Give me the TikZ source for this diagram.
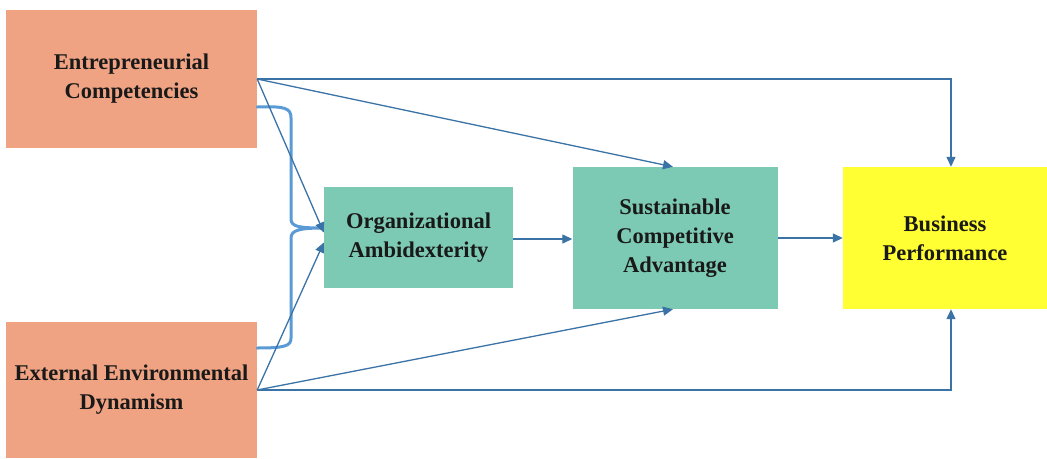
\documentclass[tikz,border=0pt]{standalone}
\usepackage{fontspec}
\setmainfont{Liberation Serif}
\usetikzlibrary{arrows.meta}
\definecolor{salmon}{HTML}{F0A383}
\definecolor{teal}{HTML}{7DCAB4}
\definecolor{bpyellow}{HTML}{FFFF33}
\definecolor{arrowblue}{HTML}{3B73A6}
\definecolor{braceblue}{HTML}{5B9BD5}
\tikzset{
  box/.style={draw=none, align=center, inner sep=0pt,
    font=\fontsize{22.5}{29}\selectfont\bfseries, text=black!90},
  arr/.style={draw=arrowblue, line width=1.3pt,
    -{Triangle[length=10pt,width=9pt]}},
  bracket/.style={draw=braceblue, line width=3pt, line cap=round}
}
\begin{document}
\begin{tikzpicture}[x=1pt,y=-1pt]
\useasboundingbox (0,0) rectangle (1047,458);
\fill[white] (0,0) rectangle (1047,458);

% boxes
\node[box, fill=salmon, minimum width=251pt, minimum height=138pt] (ec) at (131.5,79)
  {Entrepreneurial\\Competencies};
\node[box, fill=salmon, minimum width=251pt, minimum height=136pt] (eed) at (131.5,390)
  {External Environmental\\Dynamism};
\node[box, fill=teal, minimum width=189pt, minimum height=101pt] (oa) at (418.5,237.5)
  {Organizational\\Ambidexterity};
\node[box, fill=teal, minimum width=205pt, minimum height=142pt] (sca) at (675,238)
  {Sustainable\\Competitive\\Advantage};
\node[box, fill=bpyellow, minimum width=204pt, minimum height=142pt] (bp) at (945,238)
  {Business\\Performance};

% curly bracket joining the two antecedents
\draw[bracket] ([yshift=-28pt]ec.east) .. controls (285,106) and (291,108) .. (291,118)
  -- (291,219) .. controls (291,227) and (300,228) .. ([yshift=9.5pt]oa.west)
  .. controls (300,228) and (291,230) .. (291,238)
  -- (291,338) .. controls (291,346) and (285,348) .. ([yshift=42pt]eed.east);

% paths from Entrepreneurial Competencies
\draw[arr] (ec.east) -| ([xshift=6pt]bp.north);
\draw[arr] (ec.east) -- ([xshift=-2pt]sca.north);
\draw[arr] (ec.east) -- ([yshift=5pt]oa.west);

% paths from External Environmental Dynamism
\draw[arr] (eed.east) -| ([xshift=6pt]bp.south);
\draw[arr] (eed.east) -- ([xshift=-2pt]sca.south);
\draw[arr] (eed.east) -- ([yshift=-5pt]oa.west);

% mediation chain
\draw[arr] (oa.east |- 0,239) -- (sca.west |- 0,239);
\draw[arr] (sca.east) -- (bp.west);
\end{tikzpicture}
\end{document}
